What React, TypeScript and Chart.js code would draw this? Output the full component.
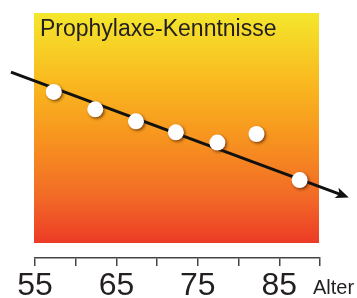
import React, { useEffect, useRef } from "react";
import { Chart, registerables } from "chart.js";

Chart.register(...registerables);

const ages = [57.3, 62.4, 67.4, 72.3, 77.4, 82.2, 87.5];
const knowledge = [67.8, 60.7, 55.8, 51.3, 47.1, 50.6, 31.8];
const trendAges = [52.05, 92.5];
const trendValues = [75.9, 26.0];
const tickLabels = [55, 65, 75, 85];
const titleText = "Prophylaxe-Kenntnisse";
const axisLabel = "Alter";

const FONT = "'Liberation Sans', Arial, Helvetica, sans-serif";

const decoPlugin = {
  id: "deco",
  beforeDatasetsDraw(chart: any) {
    const { ctx, chartArea } = chart;
    const top = chartArea.top;
    const bottom = chartArea.bottom - 15;
    const left = chartArea.left - 1;
    const right = chartArea.right - 1;
    const g = ctx.createLinearGradient(0, top, 0, bottom);
    g.addColorStop(0, "#f4e72c");
    g.addColorStop(0.3, "#f9b91f");
    g.addColorStop(0.55, "#f7931f");
    g.addColorStop(0.8, "#f26a26");
    g.addColorStop(1, "#ec3b26");
    ctx.save();
    ctx.fillStyle = g;
    ctx.fillRect(left, top, right - left, bottom - top);
    ctx.fillStyle = "#231f20";
    ctx.font = `23px ${FONT}`;
    ctx.textBaseline = "alphabetic";
    ctx.textAlign = "left";
    ctx.fillText(titleText, left + 6, top + 23);
    ctx.restore();
  },
  beforeDatasetDraw(chart: any, args: any) {
    if (args.index === 0) {
      const ctx = chart.ctx;
      ctx.save();
      ctx.shadowColor = "rgba(70,25,0,0.65)";
      ctx.shadowBlur = 3;
      ctx.shadowOffsetX = 1.5;
      ctx.shadowOffsetY = 1.5;
    }
  },
  afterDatasetDraw(chart: any, args: any) {
    const ctx = chart.ctx;
    if (args.index === 0) {
      ctx.restore();
    }
    if (args.index === 1) {
      const pts = args.meta.data;
      const a = pts[pts.length - 2];
      const b = pts[pts.length - 1];
      const ang = Math.atan2(b.y - a.y, b.x - a.x);
      const len = 13;
      const hw = 5.5;
      const tipX = b.x + Math.cos(ang) * 9;
      const tipY = b.y + Math.sin(ang) * 9;
      const bx = tipX - Math.cos(ang) * len;
      const by = tipY - Math.sin(ang) * len;
      ctx.save();
      ctx.fillStyle = "#111";
      ctx.beginPath();
      ctx.moveTo(tipX, tipY);
      ctx.lineTo(bx - Math.sin(ang) * hw, by + Math.cos(ang) * hw);
      ctx.lineTo(bx + Math.cos(ang) * 3, by + Math.sin(ang) * 3);
      ctx.lineTo(bx + Math.sin(ang) * hw, by - Math.cos(ang) * hw);
      ctx.closePath();
      ctx.fill();
      ctx.restore();
    }
  },
  afterDraw(chart: any) {
    const { ctx } = chart;
    ctx.save();
    ctx.fillStyle = "#231f20";
    ctx.font = `20px ${FONT}`;
    ctx.textBaseline = "alphabetic";
    ctx.textAlign = "left";
    ctx.fillText(axisLabel, 313, 294);
    ctx.restore();
  },
};

export default function App() {
  const ref = useRef<HTMLCanvasElement>(null);
  useEffect(() => {
    if (!ref.current) return;
    const chart = new Chart(ref.current, {
      type: "scatter",
      data: {
        datasets: [
          {
            type: "scatter",
            data: ages.map((x, i) => ({ x, y: knowledge[i] })),
            pointRadius: 8,
            pointBackgroundColor: "#ffffff",
            pointBorderWidth: 0,
            borderWidth: 0,
            clip: false,
          } as any,
          {
            type: "line",
            data: trendAges.map((x, i) => ({ x, y: trendValues[i] })),
            borderColor: "#111111",
            borderWidth: 3,
            pointRadius: 0,
            showLine: true,
            clip: false,
            fill: false,
          } as any,
        ],
      },
      options: {
        responsive: false,
        animation: false,
        events: [],
        layout: { padding: { left: 35, right: 37, top: 13, bottom: 0 } },
        plugins: {
          legend: { display: false },
          tooltip: { enabled: false },
          title: { display: false },
        },
        scales: {
          x: {
            type: "linear",
            min: 55,
            max: 90,
            afterFit: (s: any) => {
              s.height = 40;
            },
            afterBuildTicks: (s: any) => {
              const t = [];
              for (let v = 55; v <= 90; v += 5) t.push({ value: v });
              s.ticks = t;
            },
            ticks: {
              autoSkip: false,
              maxRotation: 0,
              padding: 4,
              color: "#231f20",
              font: { family: FONT, size: 32, lineHeight: 1 },
              callback: (v: any) => (tickLabels.includes(Number(v)) ? String(v) : ""),
            },
            grid: {
              display: true,
              drawOnChartArea: false,
              drawTicks: true,
              tickLength: 8,
              color: "#444444",
              lineWidth: 1.5,
            },
            border: { display: true, color: "#444444", width: 1.5 },
          },
          y: { display: false, min: 0, max: 100 },
        },
      },
      plugins: [decoPlugin],
    } as any);
    return () => chart.destroy();
  }, []);
  return (
    <div style={{ position: "absolute", left: 0, top: 0, width: 357, height: 298, background: "#fff" }}>
      <canvas ref={ref} width={357} height={298} style={{ display: "block" }} />
    </div>
  );
}
